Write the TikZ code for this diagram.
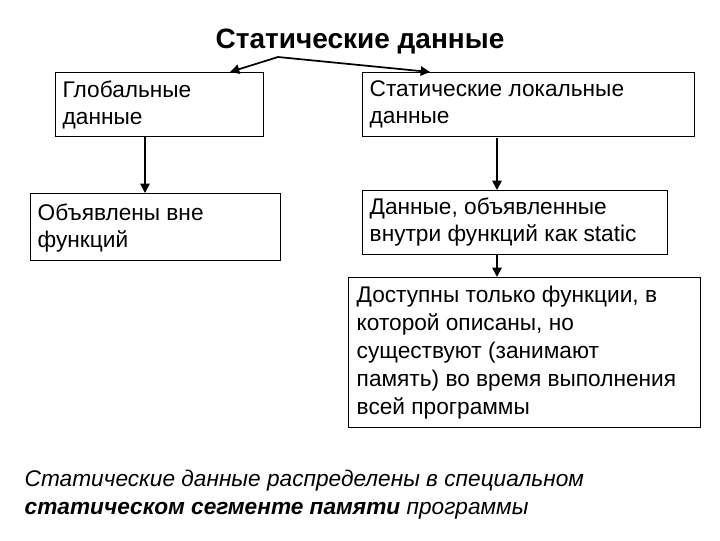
\documentclass[tikz,border=0pt]{standalone}
\usepackage{fontspec}
\setmainfont{Liberation Sans}
\usetikzlibrary{arrows.meta}
\begin{document}
\begin{tikzpicture}[x=0.75pt,y=-0.75pt,
 box/.style={draw,line width=0.6pt,anchor=north west,align=left,inner sep=0pt,font=\fontsize{17}{20.5}\selectfont},
 arr/.style={line width=1.3pt,-{Triangle[length=7pt,width=7pt]}}]
\useasboundingbox (0,0) rectangle (720,540);
\node[font=\bfseries\fontsize{21}{24}\selectfont] (t) at (360,42) {Статические данные};
\coordinate (tc) at (278,57);
\draw[box,minimum width=208*0.75pt,minimum height=64*0.75pt] (55,72) node[box,minimum width=208*0.75pt,minimum height=64*0.75pt] (g) {};
\node[anchor=north west,align=left,font=\fontsize{17}{20.5}\selectfont] at (58,76) {Глобальные\\данные};
\node[box,minimum width=332*0.75pt,minimum height=64*0.75pt] (s) at (362,72) {};
\node[anchor=north west,align=left,font=\fontsize{17}{20.5}\selectfont] at (365,76) {Статические локальные\\данные};
\node[box,minimum width=250*0.75pt,minimum height=67*0.75pt] (o) at (30,193) {};
\node[anchor=north west,align=left,font=\fontsize{17}{20.5}\selectfont] at (33,199) {Объявлены вне\\функций};
\node[box,minimum width=305*0.75pt,minimum height=64*0.75pt] (d) at (362,190) {};
\node[anchor=north west,align=left,font=\fontsize{17}{20.5}\selectfont] at (365,193) {Данные, объявленные\\внутри функций как static};
\node[box,minimum width=352*0.75pt,minimum height=150*0.75pt] (a) at (348,277) {};
\node[anchor=north west,align=left,font=\fontsize{17}{21}\selectfont] at (352,281) {Доступны только функции, в\\которой описаны, но\\существуют (занимают\\память) во время выполнения\\всей программы};
\draw[arr] (tc) -- (230,72);
\draw[arr] (tc) -- (430,72);
\draw[arr] (145,136) -- (o.north -| 145,0);
\draw[arr] (497,138) -- (d.north -| 497,0);
\draw[arr] (497,254) -- (a.north -| 497,0);
\node[anchor=north west,align=left,font=\itshape\fontsize{17}{21}\selectfont] (b) at (20,465) {Статические данные распределены в специальном\\\textbf{статическом сегменте памяти} программы};
\end{tikzpicture}
\end{document}
